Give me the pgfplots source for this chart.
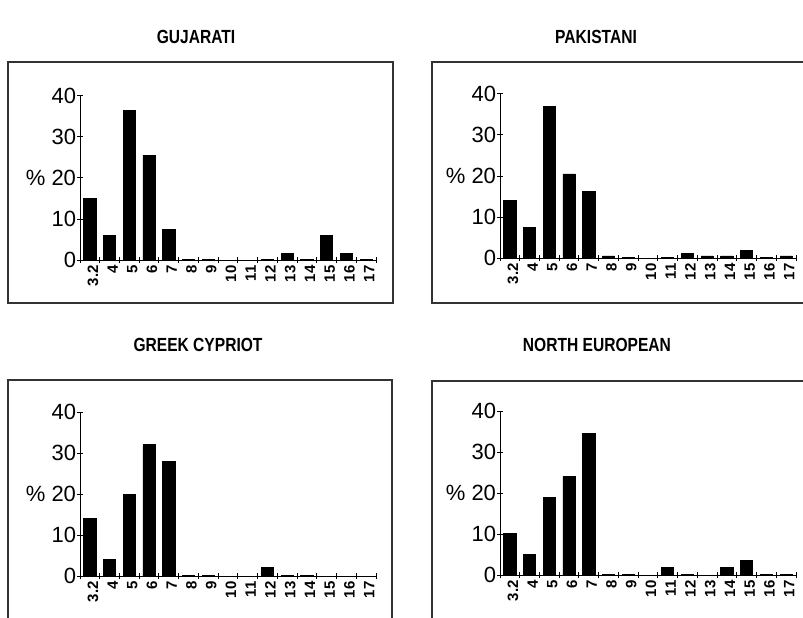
\documentclass[border=0pt]{standalone}
\usepackage{fontspec}
\setmainfont{Liberation Sans}
\newfontfamily\titlefont{Liberation Sans}[FakeStretch=0.82]
\usepackage{pgfplots}
\usepackage{pgfplotstable}
\pgfplotsset{compat=1.18}

\pgfplotstableread{
i v
0 15
1 6
2 36.5
3 25.5
4 7.5
5 0.2
6 0.2
7 0
8 0
9 0.1
10 1.5
11 0.2
12 6
13 1.5
14 0.2
}\gujarati
\pgfplotstableread{
i v
0 14
1 7.5
2 37
3 20.5
4 16.2
5 0.5
6 0.2
7 0
8 0.2
9 1.2
10 0.5
11 0.5
12 1.8
13 0.1
14 0.5
}\pakistani
\pgfplotstableread{
i v
0 14
1 4
2 20
3 32
4 28
5 0.2
6 0.2
7 0
8 0
9 2
10 0.2
11 0.2
12 0
13 0
14 0
}\greek
\pgfplotstableread{
i v
0 10.2
1 5
2 19
3 24
4 34.5
5 0.2
6 0.1
7 0
8 1.8
9 0.2
10 0
11 1.8
12 3.5
13 0.1
14 0.2
}\northeu

\pgfplotsset{panel/.style={
  scale only axis, width=148pt, height=82pt, anchor=south west,
  xmin=-0.5, xmax=14.5, ymin=0, ymax=40,
  axis x line*=bottom, axis y line*=left,
  axis line style={-, line width=0.5pt},
  ybar, bar width=0.62, bar shift=0pt,
  ytick={0,10,20,30,40}, yticklabels={0,10,\%\ 20,30,40},
  y tick label style={font=\fontsize{11}{12}\selectfont, inner sep=0.3pt},
  xtick={0,...,14},
  xticklabels={3.2,4,5,6,7,8,9,10,11,12,13,14,15,16,17},
  x tick label style={rotate=90, anchor=east, font=\bfseries\fontsize{7.5}{8}\selectfont, inner sep=1pt, yshift=-1.5pt},
  minor xtick={-0.5,0.5,...,14.5},
  major x tick style={draw=none},
  tick align=center, major tick length=3pt, minor tick length=3pt,
  tick style={black, line width=0.5pt},
  /pgf/number format/assume math mode=true,
  clip=false,
}}

\begin{document}
\begin{tikzpicture}
\useasboundingbox (0,0) rectangle (401.5pt,308.5pt);
\clip (0,0) rectangle (401.5pt,308.5pt);

% frames
\draw[line width=0.7pt, black!80] (4pt,157pt) rectangle (196.5pt,277.5pt);
\draw[line width=0.7pt, black!80] (216pt,157pt) rectangle (410pt,277.5pt);
\draw[line width=0.7pt, black!80] (4pt,-10pt) rectangle (196pt,118.5pt);
\draw[line width=0.7pt, black!80] (216pt,-10pt) rectangle (410pt,118pt);

% titles
\node[font=\titlefont\bfseries\fontsize{9.5}{10}\selectfont] at (98pt,290pt) {GUJARATI};
\node[font=\titlefont\bfseries\fontsize{9.5}{10}\selectfont] at (298pt,290pt) {PAKISTANI};
\node[font=\titlefont\bfseries\fontsize{9.5}{10}\selectfont] at (99pt,136pt) {GREEK CYPRIOT};
\node[font=\titlefont\bfseries\fontsize{9.5}{10}\selectfont] at (298.5pt,136pt) {NORTH EUROPEAN};

\begin{axis}[panel, at={(40pt,178.5pt)}]
\addplot[fill=black, draw=black] table[x=i,y=v]{\gujarati};
\end{axis}
\begin{axis}[panel, at={(250pt,179.5pt)}]
\addplot[fill=black, draw=black] table[x=i,y=v]{\pakistani};
\end{axis}
\begin{axis}[panel, at={(40pt,20.5pt)}]
\addplot[fill=black, draw=black] table[x=i,y=v]{\greek};
\end{axis}
\begin{axis}[panel, at={(250pt,21pt)}]
\addplot[fill=black, draw=black] table[x=i,y=v]{\northeu};
\end{axis}
\end{tikzpicture}
\end{document}
